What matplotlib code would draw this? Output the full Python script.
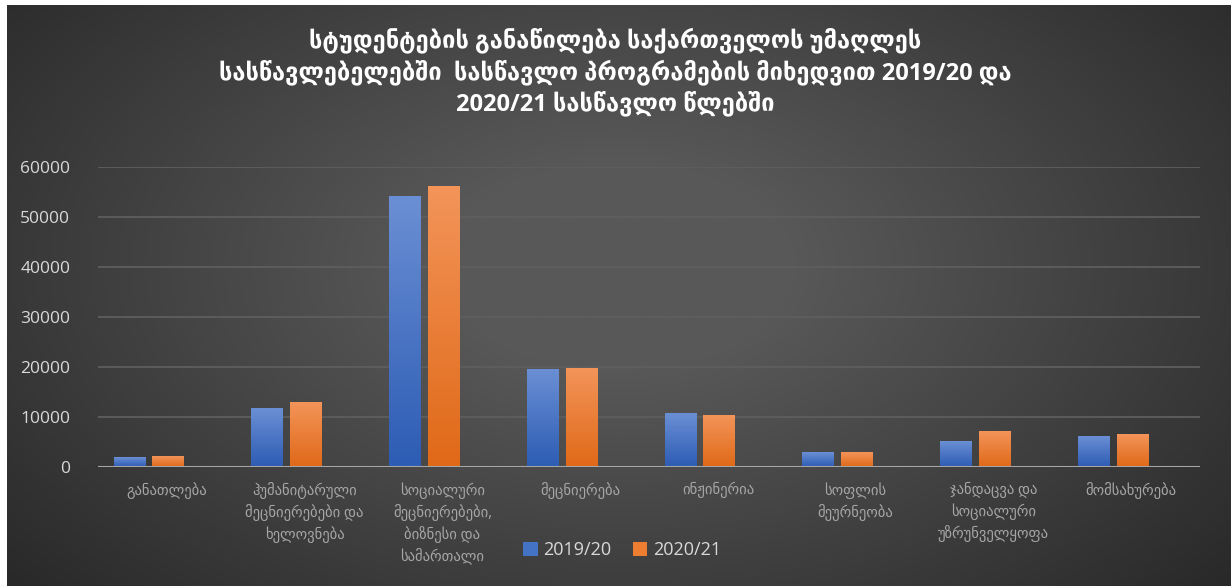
import numpy as np
import matplotlib
matplotlib.use('Agg')
import matplotlib.pyplot as plt
from matplotlib.colors import LinearSegmentedColormap

# Data
categories = [
    'განათლება',
    'ჰუმანიტარული\nმეცნიერებები და\nხელოვნება',
    'სოციალური\nმეცნიერებები,\nბიზნესი და\nსამართალი',
    'მეცნიერება',
    'ინჟინერია',
    'სოფლის\nმეურნეობა',
    'ჯანდაცვა და\nსოციალური\nუზრუნველყოფა',
    'მომსახურება',
]
students_2019 = [1950, 11750, 54150, 19550, 10750, 2950, 5150, 6150]
students_2020 = [2200, 12950, 56150, 19750, 10350, 2950, 7150, 6550]
series_labels = ['2019/20', '2020/21']
y_ticks = [0, 10000, 20000, 30000, 40000, 50000, 60000]

title = ('სტუდენტების განაწილება საქართველოს უმაღლეს\n'
         'სასწავლებელებში  სასწავლო პროგრამების მიხედვით 2019/20 და\n'
         '2020/21 სასწავლო წლებში')

plt.rcParams['font.family'] = ['Open Sans', 'DejaVu Sans']

W, H = 1231, 586
fig = plt.figure(figsize=(W / 100, H / 100), dpi=100)
fig.patch.set_facecolor('white')

# Dark radial background
bg = fig.add_axes([7 / W, 0, 1 - 7 / W, 1 - 5 / H])
bg.set_axis_off()
yy, xx = np.mgrid[0:1:300j, 0:1:600j]
d = np.sqrt(((xx - 0.5) / 0.72) ** 2 + ((yy - 0.45) / 0.9) ** 2)
shade = np.clip(1 - d, 0, 1)
bg_cmap = LinearSegmentedColormap.from_list('bg', ['#242424', '#585858'])
bg.imshow(shade, cmap=bg_cmap, aspect='auto', extent=[0, 1, 0, 1], vmin=0, vmax=0.8)
bg.set_xlim(0, 1)
bg.set_ylim(0, 1)

# Main axes
ax = fig.add_axes([98 / W, 1 - 466.7 / H, (1200 - 98) / W, 300 / H])
ax.patch.set_alpha(0)
x = np.arange(len(categories))
width = 0.232
offsets = [-0.27, 0.01]
grads = [('#6a8fd4', '#2d5cb4'), ('#f39459', '#e06918')]
solid = ['#4472c4', '#ed7d31']
values = [students_2019, students_2020]

for i in range(2):
    bars = ax.bar(x + offsets[i], values[i], width, color=solid[i],
                  label=series_labels[i], zorder=3)
    cm = LinearSegmentedColormap.from_list('g%d' % i, [grads[i][1], grads[i][0]])
    for b in bars:
        x0, w, h = b.get_x(), b.get_width(), b.get_height()
        grad = np.linspace(0, 1, 100).reshape(-1, 1)
        im = ax.imshow(grad, cmap=cm, aspect='auto', origin='lower',
                       extent=[x0, x0 + w, 0, h], zorder=4)
        im.set_clip_path(b)

ax.set_xlim(-0.5, len(categories) - 0.5)
ax.set_ylim(0, 60000)
ax.set_yticks(y_ticks)
ax.set_yticklabels([str(t) for t in y_ticks])
ax.yaxis.grid(True, color='#5e5e5e', linewidth=1.3, zorder=0)
ax.set_axisbelow(True)
ax.axhline(0, color='#a6a6a6', linewidth=2.2, zorder=5)
for s in ax.spines.values():
    s.set_visible(False)
ax.tick_params(axis='y', length=0, pad=20, labelsize=12.5, labelcolor='#d9d9d9')
ax.set_xticks(x)
ax.set_xticklabels(categories, fontsize=10.5, color='#a6a6a6', linespacing=1.4,
                   va='top')
ax.tick_params(axis='x', length=0, pad=11)

# Title
fig.text(0.5, 1 - 72 / H, title, ha='center', va='center', color='white',
         fontsize=17, fontweight='bold', linespacing=1.3)

# Legend
leg = fig.legend(loc='center', bbox_to_anchor=(622 / W, 1 - 550 / H), ncol=2,
                 frameon=False, fontsize=13, labelcolor='#d9d9d9',
                 handlelength=0.8, handleheight=0.8, handletextpad=0.3,
                 columnspacing=1.2)

fig.savefig('out.png', dpi=100, facecolor=fig.get_facecolor())
